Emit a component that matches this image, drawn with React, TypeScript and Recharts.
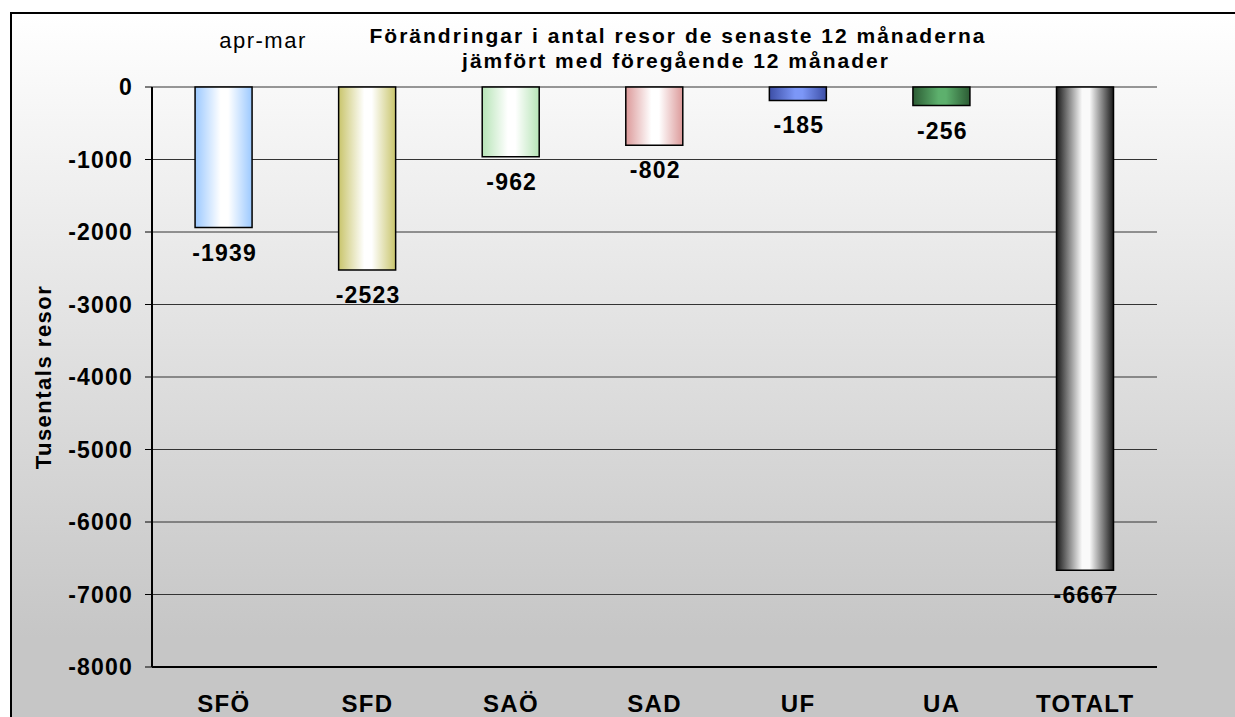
import { Bar, BarChart, CartesianGrid, Cell, Label, LabelList, ReferenceLine, XAxis, YAxis } from 'recharts'

const categories = ['SFÖ', 'SFD', 'SAÖ', 'SAD', 'UF', 'UA', 'TOTALT']
const changes = [-1939, -2523, -962, -802, -185, -256, -6667]
const yTicks = [0, -1000, -2000, -3000, -4000, -5000, -6000, -7000, -8000]
const boundaries = [0, 1, 2, 3, 4, 5, 6, 7]

// bar gradient: edge colour -> centre colour -> edge colour
const edgeColors = ['#9cc9ff', '#c9c56c', '#b6e4b6', '#dc9a9a', '#3c4ea6', '#2c5c34', '#1a1a1a']
const centerColors = ['#ffffff', '#ffffff', '#ffffff', '#ffffff', '#7c97f7', '#5db06d', '#fafafa']

const data = categories.map((name, i) => ({ name, value: changes[i] }))

const font = 'Liberation Sans, Arial, sans-serif'

const BoundaryTick = (props: any) => {
  const { x, y } = props
  return <line x1={x} x2={x} y1={y - 9} y2={y + 9} stroke="#000" strokeWidth={3} strokeLinecap="round" />
}

const ValueLabel = (props: any) => {
  const { x, y, width, height, value } = props
  const end = Math.max(y, y + height)
  return (
    <text
      x={x + width / 2 + 1}
      y={end + 33}
      textAnchor="middle"
      fontFamily={font}
      fontWeight="bold"
      fontSize={23}
      letterSpacing={1.2}
      fill="#000"
    >
      {value}
    </text>
  )
}

export default function App() {
  return (
    <div style={{ position: 'fixed', left: 0, top: 0, width: 1235, height: 717, overflow: 'hidden', background: '#fff', fontFamily: font }}>
      <div
        style={{
          position: 'absolute',
          left: 10,
          top: 12,
          width: 1300,
          height: 760,
          border: '2px solid #000',
          background: 'linear-gradient(to bottom, #ffffff 0%, #c6c6c6 82%, #c6c6c6 100%)',
        }}
      />
      <svg width={1235} height={717} style={{ position: 'absolute', left: 0, top: 0 }}>
        <text x={263} y={48} textAnchor="middle" fontFamily={font} fontSize={22} letterSpacing={1.5} fill="#000">
          apr-mar
        </text>
        <text x={678} y={43} textAnchor="middle" fontFamily={font} fontWeight="bold" fontSize={21} letterSpacing={2} fill="#000">
          Förändringar i antal resor de senaste 12 månaderna
        </text>
        <text x={676} y={68} textAnchor="middle" fontFamily={font} fontWeight="bold" fontSize={21} letterSpacing={2} fill="#000">
          jämfört med föregående 12 månader
        </text>
      </svg>
      <div style={{ position: 'absolute', left: 0, top: 0 }}>
        <BarChart width={1235} height={717} data={data} margin={{ top: 87, right: 78, bottom: 0, left: 0 }} barCategoryGap="30%">
          <defs>
            {edgeColors.map((c, i) => (
              <linearGradient key={i} id={`barGrad${i}`} x1="0" y1="0" x2="1" y2="0">
                <stop offset="0%" stopColor={c} />
                <stop offset="45%" stopColor={centerColors[i]} />
                <stop offset="58%" stopColor={centerColors[i]} />
                <stop offset="100%" stopColor={c} />
              </linearGradient>
            ))}
          </defs>
          <CartesianGrid vertical={false} stroke="#333" strokeWidth={1} />
          <XAxis
            xAxisId="cat"
            dataKey="name"
            orientation="bottom"
            height={50}
            axisLine={{ stroke: '#000', strokeWidth: 2 }}
            tickLine={false}
            tickSize={0}
            tickMargin={28}
            tick={{ fill: '#000', fontSize: 24, fontWeight: 'bold', fontFamily: font, letterSpacing: 1.3 }}
            interval={0}
          />
          <XAxis
            xAxisId="top"
            type="number"
            orientation="top"
            domain={[0, 7]}
            ticks={boundaries}
            height={0}
            axisLine={{ stroke: '#000', strokeWidth: 3 }}
            tickLine={false}
            tickSize={0}
            tickMargin={0}
            tick={<BoundaryTick />}
            interval={0}
          />
          <YAxis
            domain={[-8000, 0]}
            ticks={yTicks}
            width={152}
            interval={0}
            axisLine={{ stroke: '#000', strokeWidth: 2 }}
            tickLine={{ stroke: '#000', strokeWidth: 1 }}
            tickSize={7}
            tickMargin={12}
            tick={{ fill: '#000', fontSize: 23, fontWeight: 'bold', fontFamily: font, letterSpacing: 1.2 }}
          >
            <Label
              content={() => (
                <text
                  x={43}
                  y={377}
                  transform="rotate(-90, 43, 377)"
                  textAnchor="middle"
                  dominantBaseline="central"
                  fontFamily={font}
                  fontWeight="bold"
                  fontSize={22}
                  letterSpacing={1.5}
                  fill="#000"
                >
                  Tusentals resor
                </text>
              )}
            />
          </YAxis>
          <ReferenceLine xAxisId="top" x={7} stroke="#000" strokeWidth={2} />
          <Bar dataKey="value" xAxisId="cat" stroke="#000" strokeWidth={1.5} isAnimationActive={false}>
            {data.map((d, i) => (
              <Cell key={d.name} fill={`url(#barGrad${i})`} />
            ))}
            <LabelList dataKey="value" content={<ValueLabel />} />
          </Bar>
        </BarChart>
      </div>
    </div>
  )
}
